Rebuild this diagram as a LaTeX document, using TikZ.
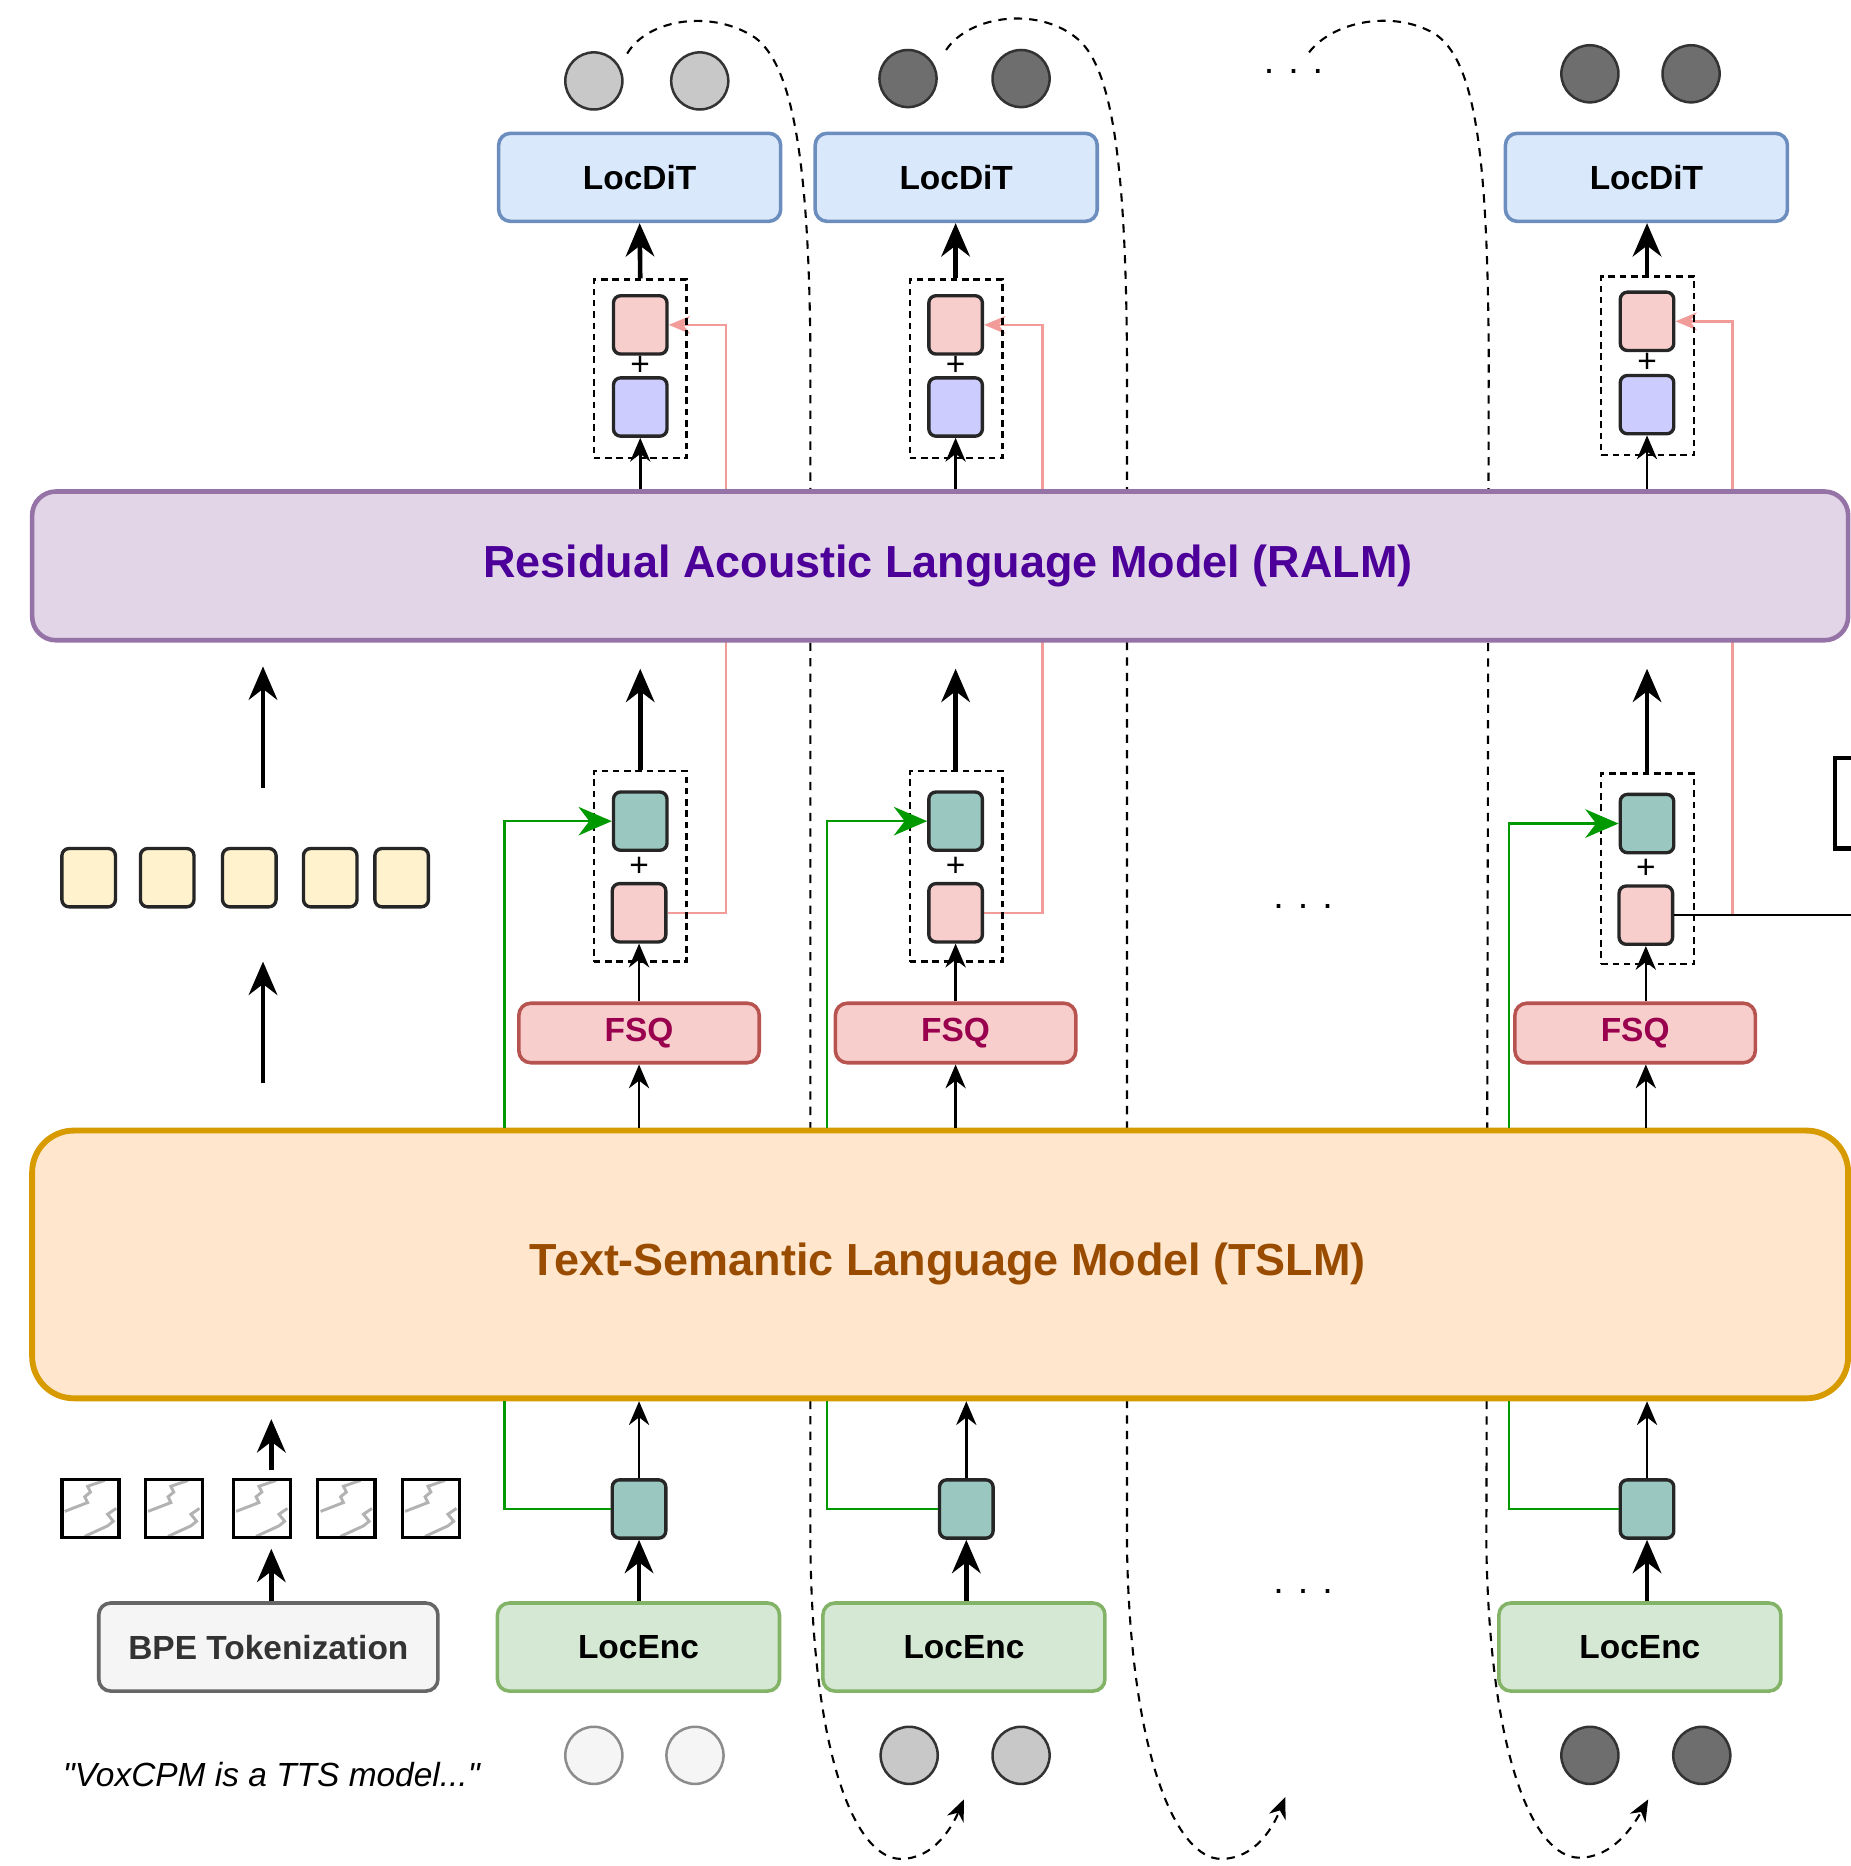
\documentclass[tikz,border=0pt]{standalone}
\usepackage{fontspec}
\setmainfont{Liberation Sans}
\newfontfamily\quotefont{Liberation Sans}
\usepackage{tikz}
\usetikzlibrary{arrows.meta,calc,positioning}
\definecolor{ditfill}{HTML}{DAE8FC}
\definecolor{ditline}{HTML}{6C8EBF}
\definecolor{encfill}{HTML}{D5E8D4}
\definecolor{encline}{HTML}{82B366}
\definecolor{fsqfill}{HTML}{F8CECC}
\definecolor{fsqline}{HTML}{B85450}
\definecolor{fsqtext}{HTML}{99004D}
\definecolor{ralmfill}{HTML}{E1D5E7}
\definecolor{ralmline}{HTML}{9673A6}
\definecolor{ralmtext}{HTML}{4C0099}
\definecolor{tslmfill}{HTML}{FFE6CC}
\definecolor{tslmline}{HTML}{D79B00}
\definecolor{tslmtext}{HTML}{994C00}
\definecolor{tealfill}{HTML}{9AC7BF}
\definecolor{bluefill}{HTML}{CCCCFF}
\definecolor{yellowfill}{HTML}{FFF2CC}
\definecolor{bpefill}{HTML}{F5F5F5}
\definecolor{bpeline}{HTML}{666666}
\definecolor{cgreen}{HTML}{009900}
\definecolor{cpink}{HTML}{F19C99}
\definecolor{dotlight}{HTML}{F5F5F5}
\definecolor{dotmid}{HTML}{C8C8C8}
\definecolor{dotdark}{HTML}{6E6E6E}
\pgfdeclarelayer{nen}
\pgfsetlayers{nen,main}

\begin{document}
\begin{tikzpicture}[x=0.1mm,y=-0.1mm,>={Stealth[length=2.8mm,width=2.4mm]},
    font=\bfseries\fontsize{8}{9.6}\selectfont,
    box/.style={draw,rounded corners=1mm,line width=0.85pt,minimum width=23.7mm,minimum height=7.4mm,inner sep=0pt},
    dit/.style={box,fill=ditfill,draw=ditline},
    enc/.style={box,fill=encfill,draw=encline},
    fsq/.style={box,fill=fsqfill,draw=fsqline,text=fsqtext,minimum width=20.2mm,minimum height=5mm},
    bpe/.style={box,fill=bpefill,draw=bpeline,text=black!80,minimum width=28.5mm},
    bigbox/.style={draw,line width=1.1pt,minimum width=152.6mm,font=\bfseries\fontsize{10.75}{13}\selectfont},
    ralm/.style={bigbox,fill=ralmfill,draw=ralmline,text=ralmtext,rounded corners=2mm,minimum height=12.5mm},
    tslm/.style={bigbox,fill=tslmfill,draw=tslmline,text=tslmtext,rounded corners=3.5mm,minimum height=22.5mm,line width=1.4pt},
    sq/.style={draw=black!85,line width=0.8pt,rounded corners=0.6mm,minimum width=4.5mm,minimum height=4.9mm,inner sep=0pt},
    tealsq/.style={sq,fill=tealfill},
    pinksq/.style={sq,fill=fsqfill},
    bluesq/.style={sq,fill=bluefill},
    yellowsq/.style={sq,fill=yellowfill},
    imgsq/.style={draw,line width=0.8pt,minimum width=4.8mm,minimum height=4.9mm,inner sep=0pt,
      path picture={\draw[gray!60,line width=0.7pt,shift={(path picture bounding box.center)}]
        (-21.6,2.5) -- (-2.4,-4.9) -- (-4.8,-9.8) -- (0,-13.7) -- (-2.4,-18.6) -- (12,-23.5)
        (21.6,0) -- (14.4,4.9) -- (19.2,10.8) -- (14.4,14.7) -- (-4.8,23.5);}},
    dot/.style={circle,draw=black!80,line width=0.6pt,minimum size=4.8mm,inner sep=0pt},
    dbox/.style={draw,dash pattern=on 0.55mm off 0.4mm,line width=0.6pt,minimum width=7.8mm,minimum height=15mm,inner sep=0pt},
    plus/.style={font=\mdseries\fontsize{8}{8}\selectfont,inner sep=0pt},
    thickarr/.style={->,line width=1.1pt},
    thinarr/.style={-{Stealth[length=2mm,width=1.7mm]},line width=0.6pt},
    greenarr/.style={draw=cgreen,line width=0.6pt},
    pinkarr/.style={draw=cpink,line width=0.6pt},
    backarr/.style={dash pattern=on 0.7mm off 0.6mm,line width=0.5pt,-{Stealth[length=1.8mm,width=1.5mm]}},
    etc/.style={font=\mdseries\fontsize{9}{9}\selectfont}]
    \useasboundingbox (0,0) rectangle (1555,1568);
    %Hai khối mô hình ngôn ngữ
    \node[ralm] (ralm) at (790,475.5) {\hspace*{1.3mm}Residual Acoustic Language Model (RALM)};
    \node[tslm] (tslm) at (790,1062.5) {\hspace*{1.3mm}Text-Semantic Language Model (TSLM)};
    %Cột thứ nhất
    \node[dot,fill=dotmid] (t1a) at (499,68) {};
    \node[dot,fill=dotmid] (t1b) at (588,68) {};
    \node[dit] (dit1) at (537.5,149) {LocDiT};
    \node[dbox] (up1) at (538,310) {};
    \node[pinksq] (pu1) at (538,273) {};
    \node[bluesq] (bu1) at (538,342) {};
    \node[plus] (pl1) at (538,307) {+};
    \node[dbox,minimum height=16mm] (mid1) at (538,728) {};
    \node[tealsq] (tm1) at (538,690) {};
    \node[pinksq] (pm1) at (537,767) {};
    \node[plus] (pn1) at (537,728) {+};
    \node[fsq] (fsq1) at (537,868) {FSQ};
    \node[tealsq] (tb1) at (537,1268) {};
    \node[enc] (enc1) at (536.5,1384) {LocEnc};
    \node[dot,fill=dotlight,draw=black!45] (b1a) at (499,1475) {};
    \node[dot,fill=dotlight,draw=black!45] (b1b) at (584,1475) {};
    \draw[thickarr] (up1.north) -- (dit1.south);
    \draw[thinarr] (ralm.north -| bu1) -- (bu1.south);
    \draw[thickarr] (mid1.north) -- ($(ralm.south -| mid1)+(0,22)$);
    \draw[thinarr] (fsq1.north -| pm1) -- (pm1.south);
    \draw[thinarr] (tslm.north -| pm1) -- (fsq1.south -| pm1);
    \draw[thinarr] (tb1.north) -- (tslm.south -| tb1);
    \draw[thickarr] (enc1.north -| tb1) -- (tb1.south);
    \coordinate (gx1) at (424,0);
    \draw[greenarr,->] (gx1 |- tslm.north) |- (tm1.west);
    \draw[greenarr] (tb1.west) -| (gx1 |- tslm.south);
    %Cột thứ hai
    \node[dot,fill=dotdark] (t2a) at (763,66) {};
    \node[dot,fill=dotdark] (t2b) at (858,66) {};
    \node[dit] (dit2) at (803.5,149) {LocDiT};
    \node[dbox] (up2) at (803.5,310) {};
    \node[pinksq] (pu2) at (803,273) {};
    \node[bluesq] (bu2) at (803,342) {};
    \node[plus] (pl2) at (803,307) {+};
    \node[dbox,minimum height=16mm] (mid2) at (803.5,728) {};
    \node[tealsq] (tm2) at (803,690) {};
    \node[pinksq] (pm2) at (803,767) {};
    \node[plus] (pn2) at (803,728) {+};
    \node[fsq] (fsq2) at (803,868) {FSQ};
    \node[tealsq] (tb2) at (812,1268) {};
    \node[enc] (enc2) at (810,1384) {LocEnc};
    \node[dot,fill=dotmid] (b2a) at (764,1475) {};
    \node[dot,fill=dotmid] (b2b) at (858,1475) {};
    \draw[thickarr] (up2.north -| pu2) -- (dit2.south -| pu2);
    \draw[thinarr] (ralm.north -| bu2) -- (bu2.south);
    \draw[thickarr] (mid2.north -| tm2) -- ($(ralm.south -| tm2)+(0,22)$);
    \draw[thinarr] (fsq2.north -| pm2) -- (pm2.south);
    \draw[thinarr] (tslm.north -| pm2) -- (fsq2.south -| pm2);
    \draw[thinarr] (tb2.north) -- (tslm.south -| tb2);
    \draw[thickarr] (enc2.north -| tb2) -- (tb2.south);
    \coordinate (gx2) at (695,0);
    \draw[greenarr,->] (gx2 |- tslm.north) |- (tm2.west);
    \draw[greenarr] (tb2.west) -| (gx2 |- tslm.south);
    %Cột cuối
    \node[dot,fill=dotdark] (t3a) at (1336,62) {};
    \node[dot,fill=dotdark] (t3b) at (1421,62) {};
    \node[dit] (dit3) at (1383.5,149) {LocDiT};
    \node[dbox] (up3) at (1384.5,307.5) {};
    \node[pinksq] (pu3) at (1384,270) {};
    \node[bluesq] (bu3) at (1384,340) {};
    \node[plus] (pl3) at (1384,305) {+};
    \node[dbox,minimum height=16mm] (mid3) at (1384.5,730) {};
    \node[tealsq] (tm3) at (1384,692) {};
    \node[pinksq] (pm3) at (1383,769) {};
    \node[plus] (pn3) at (1383,730) {+};
    \node[fsq] (fsq3) at (1374,868) {FSQ};
    \node[tealsq] (tb3) at (1384,1268) {};
    \node[enc] (enc3) at (1378,1384) {LocEnc};
    \node[dot,fill=dotdark] (b3a) at (1336,1475) {};
    \node[dot,fill=dotdark] (b3b) at (1430,1475) {};
    \draw[thickarr] (up3.north -| pu3) -- (dit3.south -| pu3);
    \draw[thinarr] (ralm.north -| bu3) -- (bu3.south);
    \draw[thickarr] (mid3.north -| tm3) -- ($(ralm.south -| tm3)+(0,22)$);
    \draw[thinarr] (fsq3.north -| pm3) -- (pm3.south);
    \draw[thinarr] (tslm.north -| pm3) -- (fsq3.south -| pm3);
    \draw[thinarr] (tb3.north) -- (tslm.south -| tb3);
    \draw[thickarr] (enc3.north -| tb3) -- (tb3.south);
    \coordinate (gx3) at (1268,0);
    \draw[greenarr,->] (gx3 |- tslm.north) |- (tm3.west);
    \draw[greenarr] (tb3.west) -| (gx3 |- tslm.south);
    %Khối bị cắt ở mép phải
    \node[draw,line width=1pt,minimum width=7.6mm,minimum height=7.6mm] (ext) at (1580,675) {};
    \coordinate (edge) at (1560,0);
    \draw[line width=0.6pt] (pm3.east) -- (pm3.east -| edge);
    %Phần văn bản bên trái
    \node[yellowsq] (y1) at (74.5,737.5) {};
    \node[yellowsq] (y2) at (140.5,737.5) {};
    \node[yellowsq] (y3) at (209.5,737.5) {};
    \node[yellowsq] (y4) at (277.5,737.5) {};
    \node[yellowsq] (y5) at (337.5,737.5) {};
    \coordinate (la1) at (221,662); \coordinate (la2) at (221,560);
    \coordinate (la3) at (221,910); \coordinate (la4) at (221,808);
    \draw[thickarr] (la1) -- (la2);
    \draw[thickarr] (la3) -- (la4);
    \node[imgsq] (im1) at (76,1267.5) {};
    \node[imgsq] (im2) at (146,1267.5) {};
    \node[imgsq] (im3) at (220,1267.5) {};
    \node[imgsq] (im4) at (291,1267.5) {};
    \node[imgsq] (im5) at (362,1267.5) {};
    \node[bpe] (bpe) at (225.5,1384) {BPE Tokenization};
    \coordinate (lb) at (228,0);
    \draw[thickarr] (lb |- bpe.north) -- ($(lb |- im3.south)+(0,8)$);
    \draw[thickarr] ($(lb |- im3.north)+(0,-6)$) -- ($(lb |- tslm.south)+(0,15)$);
    \node[font=\quotefont\mdseries\itshape\fontsize{8}{10}\selectfont] (txt) at (228,1491) {"VoxCPM is a TTS model..."};
    %Dấu ba chấm
    \node[etc] (d1) at (1087,60) {. . .};
    \node[etc] (d2) at (1095,762) {. . .};
    \node[etc] (d3) at (1095,1337) {. . .};
    %Đường hồi tiếp (vẽ ở lớp nền)
    \begin{pgfonlayer}{nen}
    \coordinate (pk1) at (610,0);
    \coordinate (pk2) at (876,0);
    \coordinate (pk3) at (1456,0);
    \draw[pinkarr,-{Stealth[length=1.8mm,width=1.5mm]}] (pm1.east) -| (pk1 |- pu1.east) -- (pu1.east);
    \draw[pinkarr,-{Stealth[length=1.8mm,width=1.5mm]}] (pm2.east) -| (pk2 |- pu2.east) -- (pu2.east);
    \draw[pinkarr,-{Stealth[length=1.8mm,width=1.5mm]}] (pm3.east) -| (pk3 |- pu3.east) -- (pu3.east);
    \coordinate (c1s) at (527,45); \coordinate (c1e) at (810,1512);
    \coordinate (c2s) at (795,42); \coordinate (c2e) at (1080,1510);
    \coordinate (c3s) at (1100,44); \coordinate (c3e) at (1385,1512);
    \draw[backarr] (c1s) .. controls (545,15) and (600,8) .. (635,32) .. controls (665,55) and (680,130) .. (681,300)
      -- (681,1300) .. controls (683,1480) and (720,1562) .. (757,1562) .. controls (785,1562) and (800,1535) .. (c1e);
    \draw[backarr] (c2s) .. controls (815,12) and (875,5) .. (907,34) .. controls (935,60) and (946,140) .. (947,300)
      -- (947,1300) .. controls (950,1480) and (990,1562) .. (1026,1562) .. controls (1055,1562) and (1070,1535) .. (c2e);
    \draw[backarr] (c3s) .. controls (1120,18) and (1170,8) .. (1205,28) .. controls (1240,50) and (1250,130) .. (1251,300)
      -- (1249,1300) .. controls (1252,1480) and (1290,1561) .. (1327,1561) .. controls (1355,1561) and (1372,1535) .. (c3e);
    \end{pgfonlayer}
\end{tikzpicture}
\end{document}
